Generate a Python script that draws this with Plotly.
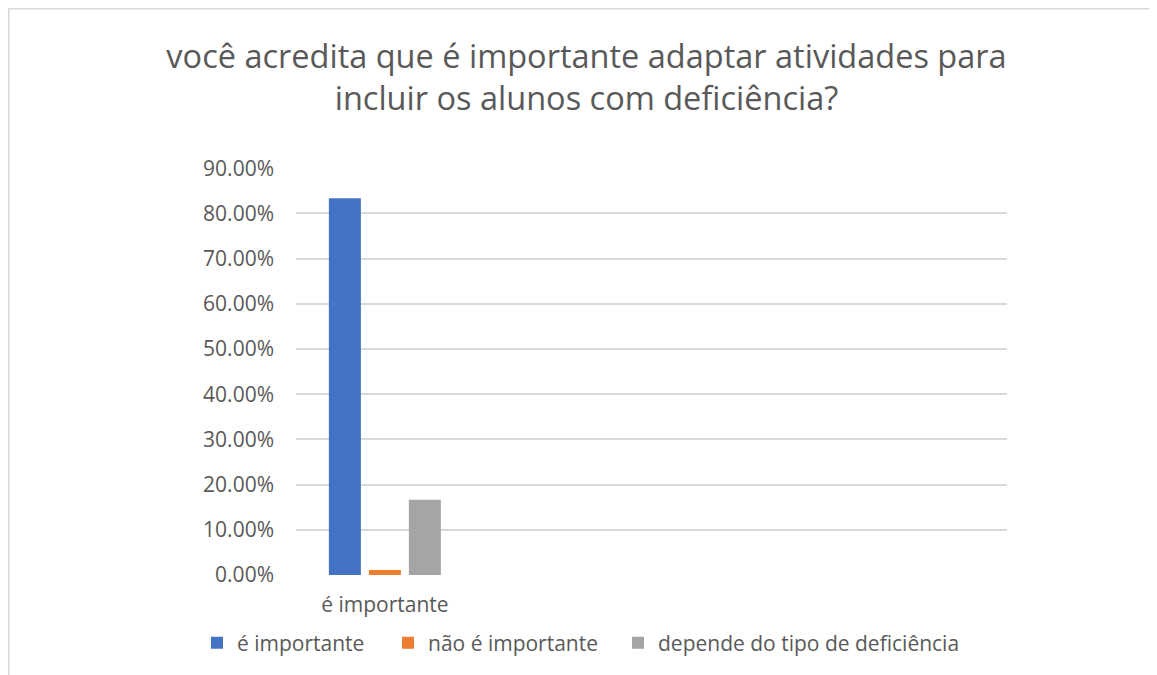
import plotly.graph_objects as go

categories = ["é importante"]
series_names = ["é importante", "não é importante", "depende do tipo de deficiência"]
series_values = [[0.8333], [0.011], [0.1667]]
colors = ["#4472C4", "#ED7D31", "#A5A5A5"]
ytick_vals = [0, 0.1, 0.2, 0.3, 0.4, 0.5, 0.6, 0.7, 0.8, 0.9]

title_text = "você acredita que é importante adaptar atividades para<br>incluir os alunos com deficiência?"

FONT = "Open Sans"
TXT = "#595959"

# page body has an 8px margin; figure coordinates are compensated
L, R, T, B = 288, 158, 160, 108
PW = 1157 - L - R
PH = 675 - T - B
legend_widths = [146, 185, 300]

fig = go.Figure()
for name, vals, col, lw in zip(series_names, series_values, colors, legend_widths):
    fig.add_trace(go.Bar(
        x=list(range(len(categories))), y=vals, name=name,
        marker=dict(color=col, line=dict(width=0)),
        legendwidth=lw,
    ))

fig.update_layout(
    width=1157, height=675,
    paper_bgcolor="white", plot_bgcolor="white",
    margin=dict(l=L, r=R, t=T, b=B, autoexpand=False),
    barmode="group", bargap=0.325, bargroupgap=0.2,
    title=dict(text=title_text, x=0.5, xref="container", xanchor="center",
               y=(675 - 60) / 675, yanchor="top",
               font=dict(family=FONT, size=32.5, color=TXT)),
    font=dict(family=FONT, color=TXT),
    showlegend=True,
    legend=dict(orientation="h", x=(189 - L) / PW, xanchor="left", xref="paper",
                y=(PH + T - 635) / PH, yanchor="middle", yref="paper",
                font=dict(family=FONT, size=21, color=TXT),
                itemwidth=30, tracegroupgap=0,
                bgcolor="rgba(0,0,0,0)"),
    xaxis=dict(range=[-0.5, 3.5], tickvals=[0], ticktext=categories,
               showgrid=False, zeroline=False, showline=False,
               ticks="", ticklabelstandoff=15,
               tickfont=dict(family=FONT, size=21, color=TXT),
               fixedrange=True),
    yaxis=dict(range=[0, 0.9005], tickvals=ytick_vals, tickformat=".2%",
               showgrid=True, gridcolor="#D9D9D9", gridwidth=2,
               zeroline=False, showline=False, ticks="",
               ticklabelstandoff=21,
               tickfont=dict(family=FONT, size=21, color=TXT),
               fixedrange=True),
)

# chart-area border (Excel style)
fig.add_shape(type="rect", xref="paper", yref="paper",
              x0=(0.75 - L) / PW, x1=(1200 - L) / PW,
              y0=(PH + T - 720) / PH, y1=(PH + T - 0.75) / PH,
              line=dict(color="#D9D9D9", width=1.5), fillcolor="rgba(0,0,0,0)",
              layer="below")

fig.write_html("out.html")
